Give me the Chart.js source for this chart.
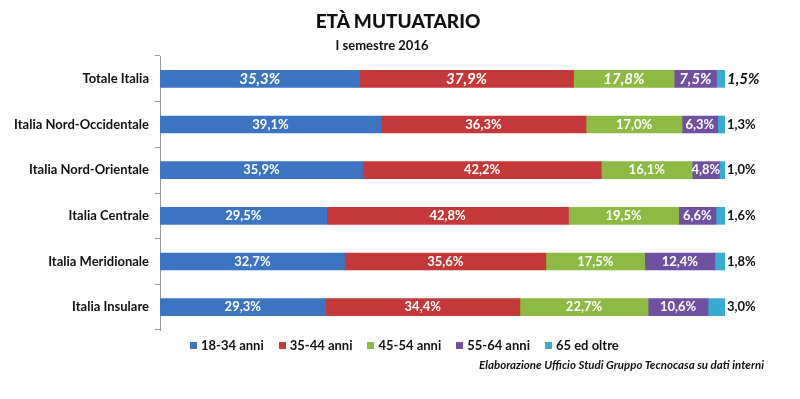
<!DOCTYPE html>
<html>
<head>
<meta charset="utf-8">
<script src="https://cdn.jsdelivr.net/npm/chart.js@4"></script>
<style>
  html, body { margin: 0; padding: 0; background: #fff; }
  #wrap { position: relative; width: 800px; height: 399px; font-family: Lato, "Open Sans", sans-serif; color: #111; }
  #title { position: absolute; left: 298px; width: 200px; top: 9px; text-align: center; font-size: 19px; font-weight: 900; }
  #subtitle { position: absolute; left: 282px; width: 200px; top: 37px; text-align: center; font-size: 13px; font-weight: bold; }
  #legend { position: absolute; left: 190px; top: 337px; font-size: 13px; font-weight: bold; white-space: nowrap; }
  #legend span.item { display: inline-block; margin-right: 15px; }
  #legend i { display: inline-block; width: 7px; height: 7px; margin-right: 4px; vertical-align: 1px; }
  #note { position: absolute; right: 36px; top: 358px; font-size: 11.5px; font-style: italic; font-weight: bold; }
</style>
</head>
<body>
<div id="wrap">
  <canvas id="chart" width="800" height="399"></canvas>
  <div id="title">ETÀ MUTUATARIO</div>
  <div id="subtitle">I semestre 2016</div>
  <div id="legend"></div>
  <div id="note">Elaborazione Ufficio Studi Gruppo Tecnocasa su dati interni</div>
</div>
<script>
// Data
var areas    = ['Totale Italia', 'Italia Nord-Occidentale', 'Italia Nord-Orientale', 'Italia Centrale', 'Italia Meridionale', 'Italia Insulare'];
var ageBands = ['18-34 anni', '35-44 anni', '45-54 anni', '55-64 anni', '65 ed oltre'];
var age18_34 = [35.3, 39.1, 35.9, 29.5, 32.7, 29.3];
var age35_44 = [37.9, 36.3, 42.2, 42.8, 35.6, 34.4];
var age45_54 = [17.8, 17.0, 16.1, 19.5, 17.5, 22.7];
var age55_64 = [7.5, 6.3, 4.8, 6.6, 12.4, 10.6];
var age65up  = [1.5, 1.3, 1.0, 1.6, 1.8, 3.0];

var colors = ['#3c74c2', '#c4383a', '#8dba43', '#7050a0', '#36acd2'];
var series = [age18_34, age35_44, age45_54, age55_64, age65up];

// ── Data labels ─────────────────────────────
var valueLabels = {
  id: 'valueLabels',
  afterDatasetsDraw: function(chart) {
    var ctx = chart.ctx;
    ctx.save();
    ctx.textBaseline = 'middle';
    chart.data.datasets.forEach(function(ds, di) {
      var meta = chart.getDatasetMeta(di);
      var last = di === chart.data.datasets.length - 1;
      meta.data.forEach(function(bar, i) {
        var txt = ds.data[i].toFixed(1).replace('.', ',') + '%';
        var first = i === 0;
        ctx.font = (first ? 'italic bold 15px ' : 'bold 13px ') + 'Lato, "Open Sans", sans-serif';
        if (last) {
          ctx.fillStyle = '#111';
          ctx.textAlign = 'left';
          ctx.fillText(txt, bar.x + 2, bar.y);
        } else {
          ctx.fillStyle = '#fff';
          ctx.textAlign = 'center';
          ctx.fillText(txt, (bar.x + bar.base) / 2, bar.y);
        }
      });
    });
    ctx.restore();
  }
};

new Chart(document.getElementById('chart'), {
  type: 'bar',
  data: {
    labels: areas,
    datasets: series.map(function(s, i) {
      return {
        label: ageBands[i],
        data: s,
        backgroundColor: colors[i],
        barThickness: 17
      };
    })
  },
  options: {
    indexAxis: 'y',
    responsive: false,
    animation: false,
    layout: { padding: { left: 0, right: 75, top: 56, bottom: 69 } },
    plugins: {
      legend: { display: false },
      tooltip: { enabled: false }
    },
    scales: {
      x: {
        stacked: true,
        min: 0, max: 100,
        display: false
      },
      y: {
        stacked: true,
        afterFit: function(s) { s.width = 160; },
        ticks: { color: '#111', padding: 6, font: { family: 'Lato', size: 13, weight: 'bold' } },
        grid: { offset: true, drawOnChartArea: false, tickLength: 5, color: '#999' },
        border: { display: true, color: '#999' }
      }
    }
  },
  plugins: [valueLabels]
});

// HTML legend
var legendEl = document.getElementById('legend');
ageBands.forEach(function(b, i) {
  var s = document.createElement('span');
  s.className = 'item';
  s.innerHTML = '<i style="background:' + colors[i] + '"></i>' + b;
  legendEl.appendChild(s);
});
</script>
</body>
</html>
